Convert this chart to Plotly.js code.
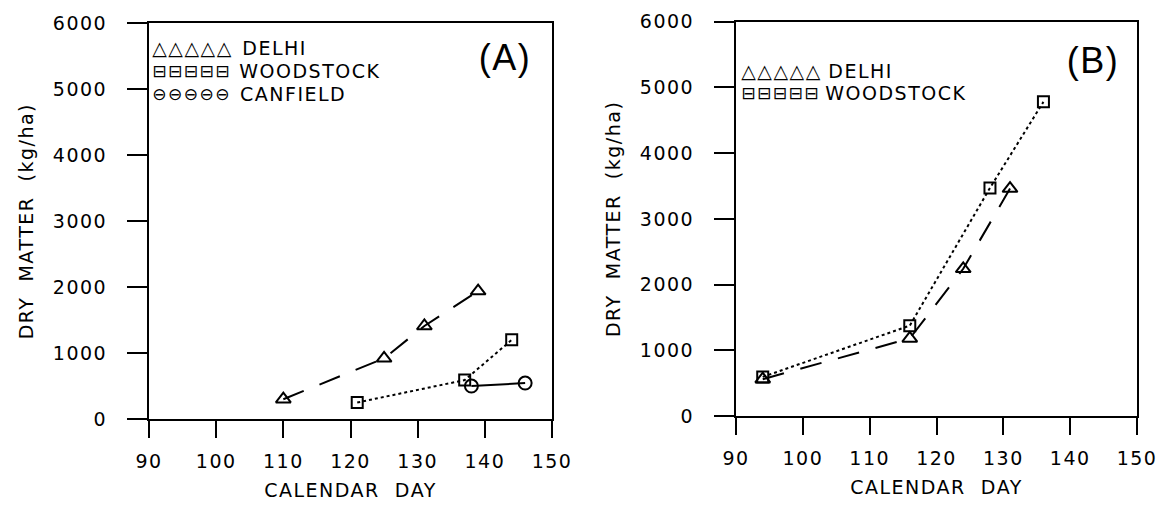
<!DOCTYPE html>
<html>
<head>
<meta charset="utf-8">
<script src="https://cdn.plot.ly/plotly-3.0.1.min.js"></script>
<style>
  html, body { margin: 0; padding: 0; background: #fff; }
  #chart { width: 1159px; height: 508px; }
  .main-svg text { letter-spacing: 1.5px; }
</style>
</head>
<body>
<div id="chart"></div>
<script>
// ---- Data ----
// Panel (A)
const daysA_delhi = [110, 125, 131, 139];
const dmA_delhi   = [300, 920, 1410, 1940];
const daysA_wood  = [121, 137, 144];
const dmA_wood    = [250, 590, 1200];
const daysA_canf  = [138, 146];
const dmA_canf    = [500, 545];
// Panel (B)
const daysB_delhi = [94, 116, 124, 131];
const dmB_delhi   = [560, 1180, 2240, 3460];
const daysB_wood  = [94, 116, 128, 136];
const dmB_wood    = [595, 1375, 3470, 4780];

const xTicks = [90, 100, 110, 120, 130, 140, 150];
const yTicks = [0, 1000, 2000, 3000, 4000, 5000, 6000];
const siteNames = ['DELHI', 'WOODSTOCK', 'CANFIELD'];
const panelLabels = ['(A)', '(B)'];
const xTitle = 'CALENDAR\u00a0 DAY';
const yTitle = 'DRY\u00a0 MATTER\u00a0 (kg/ha)';

// ---- Styles ----
const W = 1159, H = 508;
const FONT = 'DejaVu Sans';
const black = '#000';
const delhiStyle = {
  mode: 'lines+markers',
  line: { color: black, width: 2, dash: '22px,17px' },
  marker: { symbol: 'triangle-up-open', size: 13, color: black, line: { width: 2, color: black } }
};
const woodStyle = {
  mode: 'lines+markers',
  line: { color: black, width: 2, dash: '3px,3px' },
  marker: { symbol: 'square-open', size: 11, color: black, line: { width: 2, color: black } }
};
const canfStyle = {
  mode: 'lines+markers',
  line: { color: black, width: 2 },
  marker: { symbol: 'circle-open', size: 13, color: black, line: { width: 2, color: black } }
};

function tr(x, y, name, style, xa, ya) {
  return Object.assign({ x: x, y: y, name: name, xaxis: xa, yaxis: ya, showlegend: false, cliponaxis: false }, style);
}

const data = [
  tr(daysA_delhi, dmA_delhi, siteNames[0], delhiStyle, 'x', 'y'),
  tr(daysA_wood, dmA_wood, siteNames[1], woodStyle, 'x', 'y'),
  tr(daysA_canf, dmA_canf, siteNames[2], canfStyle, 'x', 'y'),
  tr(daysB_delhi, dmB_delhi, siteNames[0], delhiStyle, 'x2', 'y2'),
  tr(daysB_wood, dmB_wood, siteNames[1], woodStyle, 'x2', 'y2')
];

function xAxis(domain, anchor) {
  return {
    domain: domain, anchor: anchor, range: [90, 150], tickvals: xTicks,
    ticks: 'outside', ticklen: 17, tickwidth: 2, tickcolor: black,
    showline: true, linewidth: 2, linecolor: black, mirror: true,
    showgrid: false, zeroline: false, ticklabelstandoff: 7,
    tickfont: { family: FONT, size: 19, color: black },
    title: { text: xTitle, standoff: 13, font: { family: FONT, size: 19, color: black } }
  };
}
function yAxis(domain, anchor) {
  return {
    domain: domain, anchor: anchor, range: [0, 6000], tickvals: yTicks,
    ticks: 'outside', ticklen: 20, tickwidth: 2, tickcolor: black,
    showline: true, linewidth: 2, linecolor: black, mirror: true,
    showgrid: false, zeroline: false, ticklabelstandoff: 16,
    tickfont: { family: FONT, size: 19, color: black },
    title: { text: yTitle, standoff: 20, font: { family: FONT, size: 19, color: black } }
  };
}

const px = v => v / W;
const py = v => 1 - v / H;

function legendRow(xSym, xText, yRow, sym, symSize, label) {
  return [
    { xref: 'paper', yref: 'paper', x: px(xSym), y: py(yRow), xanchor: 'left', yanchor: 'middle',
      text: sym, showarrow: false, font: { family: FONT, size: symSize, color: black } },
    { xref: 'paper', yref: 'paper', x: px(xText), y: py(yRow), xanchor: 'left', yanchor: 'middle',
      text: label, showarrow: false, font: { family: FONT, size: 19, color: black } }
  ];
}

const TRI = '\u25B3\u25B3\u25B3\u25B3\u25B3';
const SQR = '\u229F\u229F\u229F\u229F\u229F';
const CIR = '\u2296\u2296\u2296\u2296\u2296';

const annotations = [].concat(
  legendRow(154, 244, 48, TRI, 19, siteNames[0]),
  legendRow(154, 244, 71, SQR, 17, siteNames[1]),
  legendRow(154, 244, 94, CIR, 17, siteNames[2]),
  legendRow(743, 830, 71, TRI, 19, siteNames[0]),
  legendRow(743, 830, 93, SQR, 17, siteNames[1]),
  [
    { xref: 'paper', yref: 'paper', x: px(505), y: py(57), xanchor: 'center', yanchor: 'middle',
      text: panelLabels[0], showarrow: false, font: { family: 'Liberation Sans', size: 36, color: black } },
    { xref: 'paper', yref: 'paper', x: px(1093), y: py(60), xanchor: 'center', yanchor: 'middle',
      text: panelLabels[1], showarrow: false, font: { family: 'Liberation Sans', size: 36, color: black } }
  ]
);

const layout = {
  width: W, height: H,
  margin: { l: 0, r: 0, t: 0, b: 0 },
  paper_bgcolor: '#fff', plot_bgcolor: '#fff',
  font: { family: FONT, size: 19, color: black },
  showlegend: false,
  xaxis: xAxis([149 / W, 552 / W], 'y'),
  yaxis: yAxis([(H - 419) / H, (H - 23.3) / H], 'x'),
  xaxis2: xAxis([736 / W, 1137 / W], 'y2'),
  yaxis2: yAxis([(H - 416) / H, (H - 21.7) / H], 'x2'),
  annotations: annotations
};

Plotly.newPlot('chart', data, layout, { staticPlot: true, displayModeBar: false });
</script>
</body>
</html>
